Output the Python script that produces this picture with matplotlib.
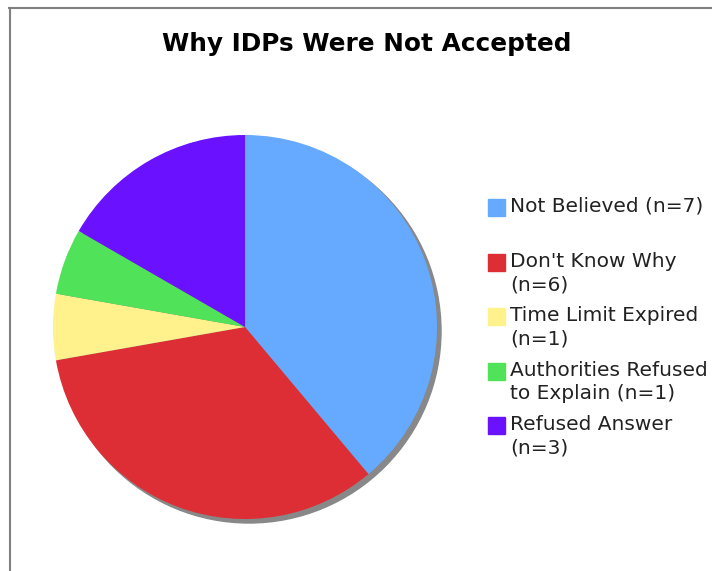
import matplotlib

matplotlib.use("Agg")
import matplotlib.pyplot as plt
from matplotlib.patches import Rectangle, Circle
from matplotlib.lines import Line2D

labels = [
    "Not Believed (n=7)",
    "Don't Know Why\n(n=6)",
    "Time Limit Expired\n(n=1)",
    "Authorities Refused\nto Explain (n=1)",
    "Refused Answer\n(n=3)",
]
counts = [7, 6, 1, 1, 3]
colors = ["#66AAFF", "#DD2E35", "#FFF18C", "#50E258", "#6A12FF"]
title = "Why IDPs Were Not Accepted"

W, H = 712, 571
fig = plt.figure(figsize=(W / 100, H / 100), dpi=100)
fig.patch.set_facecolor("white")

# frame lines (top and left)
fig.add_artist(Line2D([9 / W, 1], [1 - 8 / H, 1 - 8 / H], color="#808080", lw=1.5))
fig.add_artist(Line2D([10 / W, 10 / W], [0, 1 - 8 / H], color="#808080", lw=1.5))

fig.text(367 / W, 1 - 44 / H, title, ha="center", va="center",
         fontsize=17.8, fontweight="bold", family="DejaVu Sans")

# pie: center (245, 327), radius 192 px
cx, cy, r = 245, 327, 192
ax = fig.add_axes([(cx - r) / W, (H - cy - r) / H, 2 * r / W, 2 * r / H])
ax.set_xlim(-1, 1)
ax.set_ylim(-1, 1)
ax.set_aspect("equal")
ax.axis("off")
off = 4 / r
ax.add_patch(Circle((off, -off), 1, color="#888888", zorder=0, clip_on=False))
ax.pie(counts, colors=colors, startangle=90, counterclock=False, radius=1,
       wedgeprops=dict(linewidth=0))
ax.set_xlim(-1, 1)
ax.set_ylim(-1, 1)

# legend
rows_y = [207, 262, 316, 371, 425]
for lab, col, y in zip(labels, colors, rows_y):
    fig.patches.append(Rectangle((488 / W, 1 - (y + 9) / H), 17 / W, 17 / H,
                                 transform=fig.transFigure, color=col))
    fig.text(510 / W, 1 - (y - 10) / H, lab, ha="left", va="top",
             fontsize=14.5, linespacing=1.28, color="#222222", family="DejaVu Sans")

fig.savefig("out.png", dpi=100)
